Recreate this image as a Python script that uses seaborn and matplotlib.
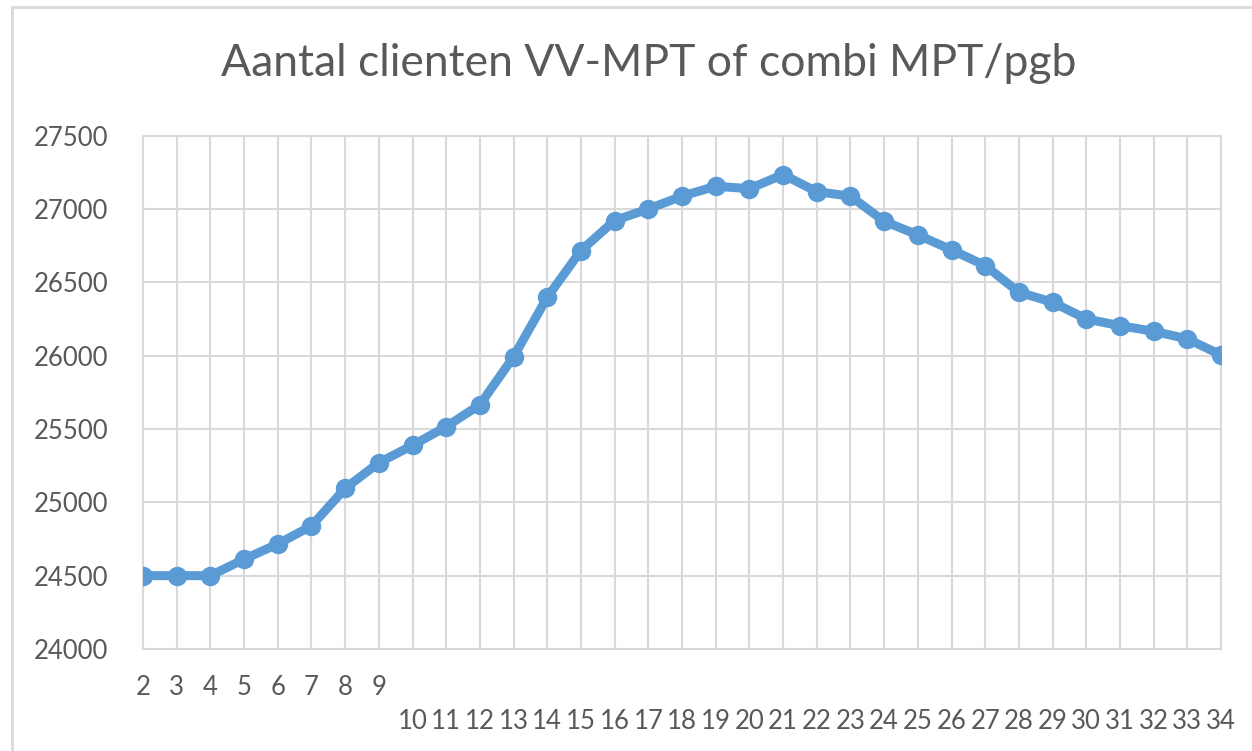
import matplotlib
matplotlib.use("Agg")
import matplotlib.pyplot as plt
import seaborn as sns
import pandas as pd
from matplotlib.patches import Rectangle

weeks = list(range(2, 35))
clients = [24500, 24500, 24500, 24612, 24716, 24839, 25095, 25270, 25388, 25516,
           25665, 25992, 26398, 26716, 26921, 27000, 27087, 27155, 27138, 27234,
           27118, 27087, 26916, 26823, 26721, 26614, 26432, 26364, 26250, 26204,
           26166, 26114, 26005]
title = "Aantal clienten VV-MPT of combi MPT/pgb"
yticks = [24000, 24500, 25000, 25500, 26000, 26500, 27000, 27500]

sns.set_style("white")
plt.rcParams['font.family'] = ['Lato', 'DejaVu Sans']

text_color = "#595959"
grid_color = "#D9D9D9"
line_color = "#5B9BD5"

fig = plt.figure(figsize=(12.52, 7.51), dpi=100)
ax = fig.add_axes([143/1252, 1-649/751, (1221-143)/1252, (649-135.6)/751])

df = pd.DataFrame({"week": weeks, "clients": clients})
sns.lineplot(data=df, x="week", y="clients", ax=ax, color=line_color,
             linewidth=6.5, marker="o", markersize=14, markeredgewidth=0,
             markeredgecolor=line_color, zorder=3)

ax.set_xlim(weeks[0], weeks[-1])
ax.set_ylim(yticks[0], yticks[-1])
ax.set_yticks(yticks)
ax.set_yticklabels([str(v) for v in yticks])

upper = [w for w in weeks if w < 10]
lower = [w for w in weeks if w >= 10]
ax.set_xticks(upper)
ax.set_xticklabels([str(w) for w in upper])
ax.set_xticks(lower, minor=True)
ax.set_xticklabels([str(w) for w in lower], minor=True)

ax.tick_params(axis='x', which='major', length=0, pad=19, labelsize=18.5, colors=text_color)
ax.tick_params(axis='x', which='minor', length=0, pad=43, labelsize=18.5, colors=text_color)
ax.tick_params(axis='y', length=0, pad=25, labelsize=18.5, colors=text_color)

ax.grid(True, which='both', axis='x', color=grid_color, linewidth=1.5, zorder=0)
ax.grid(True, which='major', axis='y', color=grid_color, linewidth=1.5, zorder=0)
ax.set_axisbelow(True)
for s in ax.spines.values():
    s.set_color(grid_color)
    s.set_linewidth(1.5)

ax.set_xlabel("")
ax.set_ylabel("")

fig.text(649/1252, 1-63/751, title, ha='center', va='center', fontsize=32, color=text_color)

fig.patches.append(Rectangle((12/1252, -0.1), 1.2, 1 - 7/751 + 0.1, transform=fig.transFigure,
                             fill=False, edgecolor=grid_color, linewidth=2.0, zorder=-1))

fig.savefig("out.png", dpi=100, facecolor="white")
